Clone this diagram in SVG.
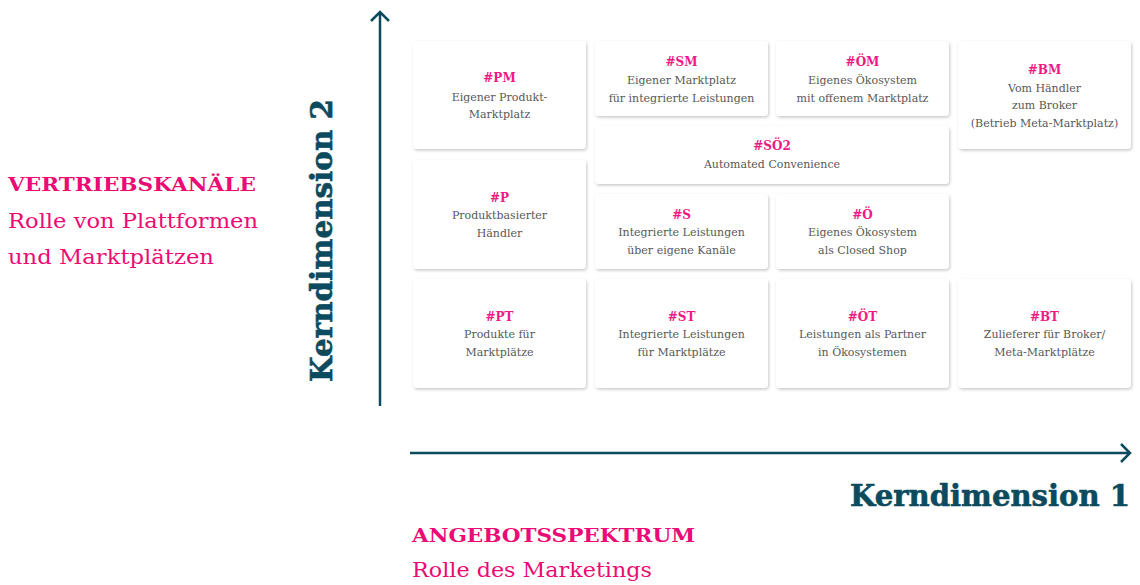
<svg xmlns="http://www.w3.org/2000/svg" width="1140" height="585" viewBox="0 0 1140 585">
<style>
.box{fill:#ffffff;filter:url(#sh)}
.tag{font-family:"DejaVu Serif","Liberation Serif",serif;font-weight:bold;font-size:12px;fill:#ee1a82;text-anchor:middle}
.lbl{font-family:"DejaVu Serif","Liberation Serif",serif;font-size:11px;fill:#585858;text-anchor:middle}
.ax{stroke:#0c4a5d;stroke-width:2.5;fill:none}
.head{font-family:"DejaVu Serif","Liberation Serif",serif;font-weight:bold;font-size:18px;fill:#ec0a74}
.sub{font-family:"DejaVu Serif","Liberation Serif",serif;font-size:20px;fill:#ec0a74}
.dim{font-family:"DejaVu Serif","Liberation Serif",serif;font-weight:bold;font-size:30px;fill:#0c4a5d;stroke:#0c4a5d;stroke-width:0.6}
</style>
<defs>
<filter id="sh" x="-10%" y="-10%" width="120%" height="130%">
<feDropShadow dx="1" dy="1.5" stdDeviation="1.5" flood-color="#000" flood-opacity="0.22"/>
</filter>
</defs>
<g id="connectors">
<path class="ax" d="M380,406 V12 M371,21 L380,12 L389,21"/>
<path class="ax" d="M410,453 H1130 M1121,444 L1130,453 L1121,462"/>
</g>
<g id="PM"><rect class="box" x="413" y="41" width="173" height="108" rx="4"/>
<text class="tag" x="499.5" y="82">#PM</text>
<text class="lbl" x="499.5" y="101">Eigener Produkt-</text>
<text class="lbl" x="499.5" y="118">Marktplatz</text></g>
<g id="SM"><rect class="box" x="595" y="41" width="173" height="75" rx="4"/>
<text class="tag" x="681.5" y="66">#SM</text>
<text class="lbl" x="681.5" y="84">Eigener Marktplatz</text>
<text class="lbl" x="681.5" y="102">für integrierte Leistungen</text></g>
<g id="OM"><rect class="box" x="776" y="41" width="173" height="75" rx="4"/>
<text class="tag" x="862.5" y="66">#ÖM</text>
<text class="lbl" x="862.5" y="84">Eigenes Ökosystem</text>
<text class="lbl" x="862.5" y="102">mit offenem Marktplatz</text></g>
<g id="BM"><rect class="box" x="958" y="41" width="173" height="108" rx="4"/>
<text class="tag" x="1044.5" y="74">#BM</text>
<text class="lbl" x="1044.5" y="92">Vom Händler</text>
<text class="lbl" x="1044.5" y="109">zum Broker</text>
<text class="lbl" x="1044.5" y="127">(Betrieb Meta-Marktplatz)</text></g>
<g id="SO2"><rect class="box" x="595" y="126" width="354" height="58" rx="4"/>
<text class="tag" x="772" y="150">#SÖ2</text>
<text class="lbl" x="772" y="168">Automated Convenience</text></g>
<g id="P"><rect class="box" x="413" y="160" width="173" height="109" rx="4"/>
<text class="tag" x="499.5" y="202">#P</text>
<text class="lbl" x="499.5" y="219">Produktbasierter</text>
<text class="lbl" x="499.5" y="237">Händler</text></g>
<g id="S"><rect class="box" x="595" y="194" width="173" height="75" rx="4"/>
<text class="tag" x="681.5" y="219">#S</text>
<text class="lbl" x="681.5" y="236">Integrierte Leistungen</text>
<text class="lbl" x="681.5" y="254">über eigene Kanäle</text></g>
<g id="O"><rect class="box" x="776" y="194" width="173" height="75" rx="4"/>
<text class="tag" x="862.5" y="219">#Ö</text>
<text class="lbl" x="862.5" y="236">Eigenes Ökosystem</text>
<text class="lbl" x="862.5" y="254">als Closed Shop</text></g>
<g id="PT"><rect class="box" x="413" y="279" width="173" height="109" rx="4"/>
<text class="tag" x="499.5" y="321">#PT</text>
<text class="lbl" x="499.5" y="338">Produkte für</text>
<text class="lbl" x="499.5" y="356">Marktplätze</text></g>
<g id="ST"><rect class="box" x="595" y="279" width="173" height="109" rx="4"/>
<text class="tag" x="681.5" y="321">#ST</text>
<text class="lbl" x="681.5" y="338">Integrierte Leistungen</text>
<text class="lbl" x="681.5" y="356">für Marktplätze</text></g>
<g id="OT"><rect class="box" x="776" y="279" width="173" height="109" rx="4"/>
<text class="tag" x="862.5" y="321">#ÖT</text>
<text class="lbl" x="862.5" y="338">Leistungen als Partner</text>
<text class="lbl" x="862.5" y="356">in Ökosystemen</text></g>
<g id="BT"><rect class="box" x="958" y="279" width="173" height="109" rx="4"/>
<text class="tag" x="1044.5" y="321">#BT</text>
<text class="lbl" x="1044.5" y="338">Zulieferer für Broker/</text>
<text class="lbl" x="1044.5" y="356">Meta-Marktplätze</text></g>
<g id="labels">
<text class="head" x="8" y="191" textLength="248" lengthAdjust="spacingAndGlyphs">VERTRIEBSKANÄLE</text>
<text class="sub" x="8" y="228" textLength="250" lengthAdjust="spacingAndGlyphs">Rolle von Plattformen</text>
<text class="sub" x="8" y="264" textLength="206" lengthAdjust="spacingAndGlyphs">und Marktplätzen</text>
<text class="dim" transform="translate(332,382) rotate(-90)" textLength="283" lengthAdjust="spacingAndGlyphs">Kerndimension 2</text>
<text class="dim" x="1130" y="506" text-anchor="end" textLength="280" lengthAdjust="spacingAndGlyphs">Kerndimension 1</text>
<text class="head" x="412" y="542" textLength="283" lengthAdjust="spacingAndGlyphs">ANGEBOTSSPEKTRUM</text>
<text class="sub" x="412" y="577" textLength="240" lengthAdjust="spacingAndGlyphs">Rolle des Marketings</text>
</g>
</svg>
